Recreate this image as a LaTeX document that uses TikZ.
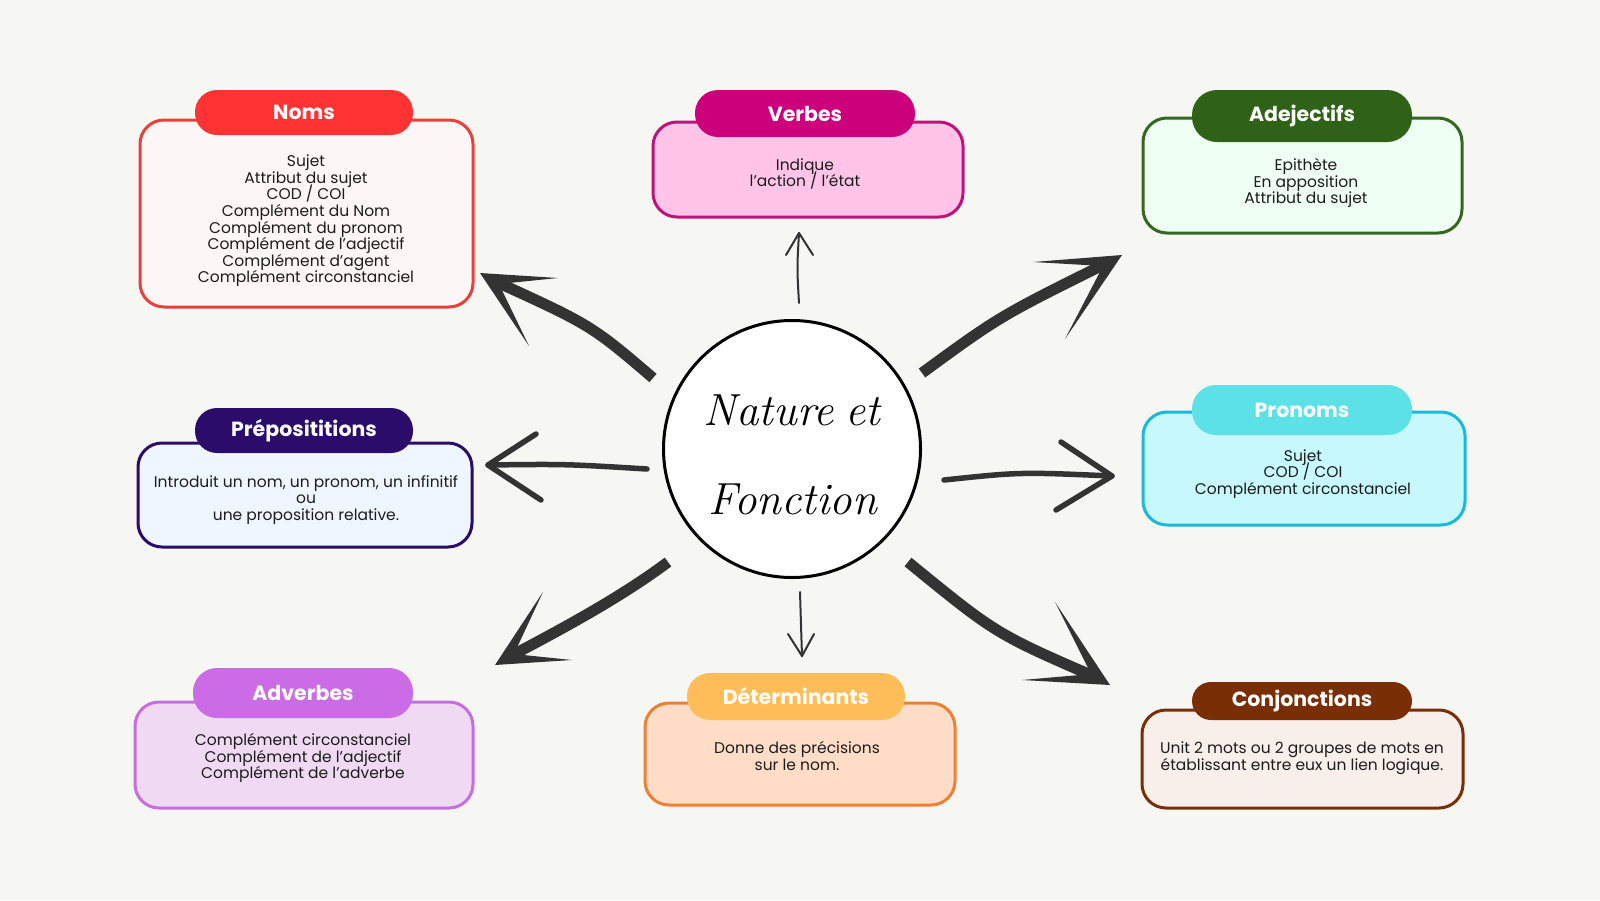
\documentclass[tikz,border=0pt]{standalone}
\usepackage{fontspec}
\newfontfamily\pfont{Poppins}
\usetikzlibrary{calc}
\definecolor{bgc}{HTML}{F6F6F2}
\definecolor{arr}{HTML}{333333}
\definecolor{txtc}{HTML}{1C1C1C}
\definecolor{nomsP}{HTML}{FF3333}
\definecolor{nomsB}{HTML}{E6423D}
\definecolor{nomsF}{HTML}{FDF6F6}
\definecolor{verbP}{HTML}{CC007A}
\definecolor{verbB}{HTML}{C0137A}
\definecolor{verbF}{HTML}{FFC4E8}
\definecolor{adjP}{HTML}{2D6217}
\definecolor{adjB}{HTML}{33691E}
\definecolor{adjF}{HTML}{F0FFF3}
\definecolor{prepP}{HTML}{2B0C6B}
\definecolor{prepB}{HTML}{2B0C6B}
\definecolor{prepF}{HTML}{EFF6FF}
\definecolor{proP}{HTML}{5CE1E6}
\definecolor{proB}{HTML}{1CB8D8}
\definecolor{proF}{HTML}{C6F8FD}
\definecolor{advP}{HTML}{CB6CE6}
\definecolor{advB}{HTML}{C66EE0}
\definecolor{advF}{HTML}{F0D9F3}
\definecolor{detP}{HTML}{FFBD59}
\definecolor{detB}{HTML}{EF8033}
\definecolor{detF}{HTML}{FFDDC6}
\definecolor{conjP}{HTML}{7A2E05}
\definecolor{conjB}{HTML}{7A2E05}
\definecolor{conjF}{HTML}{F8EEEA}
\tikzset{
  bodybox/.style={draw=#1, line width=3pt, rounded corners=24pt, inner sep=0pt},
  pill/.style={fill=#1, text=white, inner sep=0pt, font=\pfont\bfseries\fontsize{20.5}{24}\selectfont},
  txt/.style={font=\pfont\fontsize{15.5}{16.6}\selectfont, align=center, text=txtc, inner sep=0pt,
    execute at begin node={\lineskiplimit=-50pt\lineskip=0pt}},
  brush/.style={draw=arr, line width=11pt},
  medarrow/.style={draw=arr, line width=5.5pt, line cap=round, line join=round},
  thinarrow/.style={draw=arr, line width=2pt, line cap=round, line join=round},
  bigtxt/.style={font=\fontsize{45}{50}\selectfont\itshape, inner sep=0pt, text=black},
}
\begin{document}
\begin{tikzpicture}[x=1pt,y=-1pt]
\path[fill=bgc] (0,0) rectangle (1600,900);
\useasboundingbox (0,0) rectangle (1600,900);

% Noms
\node[bodybox=nomsB, fill=nomsF, minimum width=333pt, minimum height=187pt] (nomsbody) at (306.5,213.5) {};
\node[pill=nomsP, rounded corners=22pt, minimum width=218pt, minimum height=45pt] (nomstitle) at (304,112.5) {Noms};
\node[txt] (nomstext) at (306,221) {Sujet\\Attribut du sujet\\COD / COI\\Complément du Nom\\Complément du pronom\\Complément de l’adjectif\\Complément d’agent\\Complément circonstanciel};

% Verbes
\node[bodybox=verbB, fill=verbF, minimum width=310pt, minimum height=95pt] (verbbody) at (808,169.5) {};
\node[pill=verbP, rounded corners=23pt, minimum width=220pt, minimum height=47pt] (verbtitle) at (805,113.5) {Verbes};
\node[txt] (verbtext) at (805,174) {Indique\\l’action / l’état};

% Adejectifs
\node[bodybox=adjB, fill=adjF, minimum width=319pt, minimum height=115pt] (adjbody) at (1302.5,175.5) {};
\node[pill=adjP, rounded corners=25pt, minimum width=220pt, minimum height=52pt] (adjtitle) at (1302,116) {Adejectifs};
\node[txt] (adjtext) at (1306,183) {Epithète\\En apposition\\Attribut du sujet};

% Prepositions
\node[bodybox=prepB, fill=prepF, minimum width=334pt, minimum height=104pt] (prepbody) at (305,495) {};
\node[pill=prepP, rounded corners=22pt, minimum width=218pt, minimum height=45pt] (preptitle) at (304,430.5) {Préposititions};
\node[txt] (preptext) at (306,500) {Introduit un nom, un pronom, un infinitif\\ou\\une proposition relative.};

% Pronoms
\node[bodybox=proB, fill=proF, minimum width=322pt, minimum height=113pt] (probody) at (1304,468.5) {};
\node[pill=proP, rounded corners=24pt, minimum width=220pt, minimum height=50pt] (protitle) at (1302,410) {Pronoms};
\node[txt] (protext) at (1303,474) {Sujet\\COD / COI\\Complément circonstanciel};

% Adverbes
\node[bodybox=advB, fill=advF, minimum width=338pt, minimum height=106pt] (advbody) at (304,755) {};
\node[pill=advP, rounded corners=24pt, minimum width=220pt, minimum height=50pt] (advtitle) at (303,693) {Adverbes};
\node[txt] (advtext) at (303,758) {Complément circonstanciel\\Complément de l’adjectif\\Complément de l’adverbe};

% Determinants
\node[bodybox=detB, fill=detF, minimum width=310pt, minimum height=102pt] (detbody) at (800,754) {};
\node[pill=detP, rounded corners=23pt, minimum width=218pt, minimum height=47pt] (dettitle) at (796,696.5) {Déterminants};
\node[txt] (dettext) at (797,756) {Donne des précisions\\sur le nom.};

% Conjonctions
\node[bodybox=conjB, fill=conjF, minimum width=321pt, minimum height=98pt] (conjbody) at (1302.5,759) {};
\node[pill=conjP, rounded corners=19pt, minimum width=220pt, minimum height=38pt] (conjtitle) at (1302,701) {Conjonctions};
\node[txt] (conjtext) at (1302,758) {Unit 2 mots ou 2 groupes de mots en\\établissant entre eux un lien logique.};

% Centre
\node[circle, draw=black, line width=3pt, fill=white, minimum size=257pt, inner sep=0pt] (centre) at (792,449) {};
\node[bigtxt] (centre1) at (792,410) {Nature\hspace{-4pt} et};
\node[bigtxt] (centre2) at (793,499) {Fonction};

% Brush arrow to Noms
\coordinate (a1t) at (480,273); \coordinate (a1b1) at (558,278); \coordinate (a1b2) at (529,346);
\coordinate (a1i) at (499,284); \coordinate (a1s) at (490,279); \coordinate (a1e) at (653,378);
\draw[brush] (a1s) .. controls (591,325) .. (a1e);
\fill[arr] (a1t) -- (a1b1) -- (a1i) -- (a1b2) -- cycle;

% Brush arrow to Adejectifs
\coordinate (a2t) at (1122,255); \coordinate (a2b1) at (1033,262); \coordinate (a2b2) at (1065,339);
\coordinate (a2i) at (1103,266); \coordinate (a2s) at (1111,261); \coordinate (a2e) at (922,373);
\draw[brush] (a2s) .. controls (1000,316) .. (a2e);
\fill[arr] (a2t) -- (a2b1) -- (a2i) -- (a2b2) -- cycle;

% Brush arrow to Conjonctions
\coordinate (a3t) at (1110,685); \coordinate (a3b1) at (1022,680); \coordinate (a3b2) at (1055,602);
\coordinate (a3i) at (1091,674); \coordinate (a3s) at (1100,679); \coordinate (a3e) at (908,562);
\draw[brush] (a3s) .. controls (996,634) .. (a3e);
\fill[arr] (a3t) -- (a3b1) -- (a3i) -- (a3b2) -- cycle;

% Brush arrow to Adverbes
\coordinate (a4t) at (495,665); \coordinate (a4b1) at (543,592); \coordinate (a4b2) at (572,660);
\coordinate (a4i) at (514,654); \coordinate (a4s) at (505,659); \coordinate (a4e) at (668,562);
\draw[brush] (a4s) .. controls (560,630) and (620,598) .. (a4e);
\fill[arr] (a4t) -- (a4b1) -- (a4i) -- (a4b2) -- cycle;

% Medium arrow to Prepositions
\coordinate (a5e) at (647,469); \coordinate (a5t) at (488,465);
\coordinate (a5b1) at (536,434); \coordinate (a5b2) at (541,500);
\draw[medarrow] (a5e) .. controls (565,464) .. (a5t);
\draw[medarrow] (a5b1) -- (a5t) -- (a5b2);

% Medium arrow to Pronoms
\coordinate (a6e) at (944,480); \coordinate (a6t) at (1112,476);
\coordinate (a6b1) at (1061,442); \coordinate (a6b2) at (1056,510);
\draw[medarrow] (a6e) .. controls (1020,472) .. (a6t);
\draw[medarrow] (a6b1) -- (a6t) -- (a6b2);

% Thin arrow to Verbes
\coordinate (a7e) at (799,303); \coordinate (a7t) at (799,233);
\coordinate (a7b1) at (786,255); \coordinate (a7b2) at (813,255);
\draw[thinarrow] (a7e) .. controls (797,268) .. (a7t);
\draw[thinarrow] (a7b1) -- (a7t) -- (a7b2);

% Thin arrow to Determinants
\coordinate (a8e) at (800,592); \coordinate (a8t) at (802,656);
\coordinate (a8b1) at (788,634); \coordinate (a8b2) at (814,634);
\draw[thinarrow] (a8e) .. controls (801,625) .. (a8t);
\draw[thinarrow] (a8b1) -- (a8t) -- (a8b2);
\end{tikzpicture}
\end{document}
